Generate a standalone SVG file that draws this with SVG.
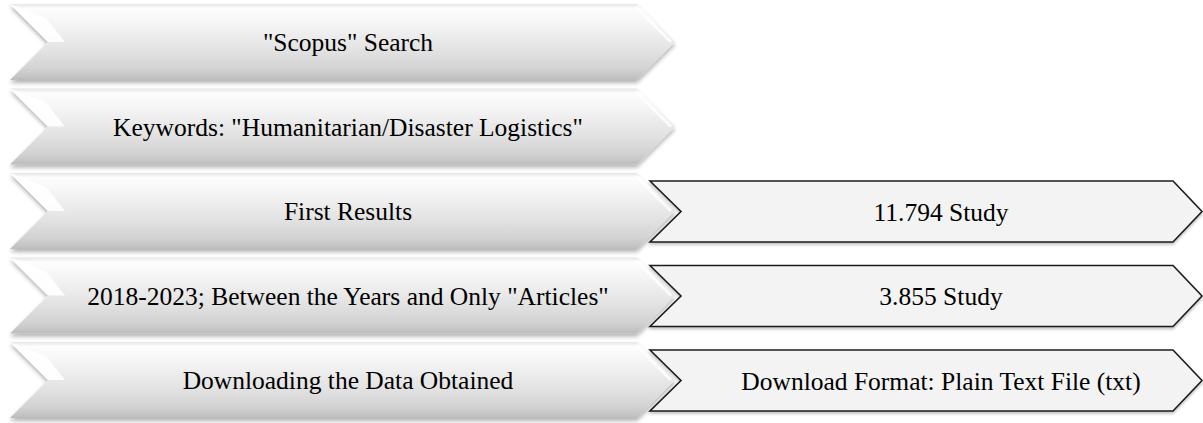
<svg xmlns="http://www.w3.org/2000/svg" width="1203" height="423" viewBox="0 0 1203 423">
<defs>
<linearGradient id="gL" x1="0" y1="0" x2="0" y2="1">
<stop offset="0" stop-color="#e6e6e6"/>
<stop offset="0.06" stop-color="#fdfdfd"/>
<stop offset="0.25" stop-color="#f5f5f5"/>
<stop offset="0.6" stop-color="#e3e3e3"/>
<stop offset="0.85" stop-color="#d3d3d3"/>
<stop offset="0.95" stop-color="#c5c5c5"/>
<stop offset="1" stop-color="#bcbcbc"/>
</linearGradient>
<filter id="sh" x="-5%" y="-20%" width="110%" height="150%">
<feGaussianBlur in="SourceAlpha" stdDeviation="2"/>
<feOffset dx="0" dy="3" result="b"/>
<feComponentTransfer><feFuncA type="linear" slope="0.3"/></feComponentTransfer>
<feMerge><feMergeNode/><feMergeNode in="SourceGraphic"/></feMerge>
</filter>
<filter id="sh2" x="-5%" y="-20%" width="110%" height="150%">
<feGaussianBlur in="SourceAlpha" stdDeviation="1.5"/>
<feOffset dx="0" dy="2" result="b"/>
<feComponentTransfer><feFuncA type="linear" slope="0.25"/></feComponentTransfer>
<feMerge><feMergeNode/><feMergeNode in="SourceGraphic"/></feMerge>
</filter>
</defs>
<style>
.lb{fill:url(#gL);filter:url(#sh)}
.hl{fill:#ffffff;opacity:0.9}
.tip{fill:none;stroke:#ffffff;stroke-width:3;opacity:0.8}
.rb{fill:#f3f3f3;stroke:#1e1e1e;stroke-width:1.6;stroke-linejoin:miter;filter:url(#sh2)}
text{font-family:"Liberation Serif","Times New Roman",serif;font-size:25.5px;fill:#000;text-anchor:middle}
</style>
<g id="connectors"></g>
<g id="n1">
<polygon class="lb" points="10,4 48,42 10,80 637,80 675,42 637,4"/>
<polygon class="hl" points="10,4 48,42 65,42 46,18"/>
<polyline class="tip" points="636,7 671,42"/>
<text x="348" y="51">"Scopus" Search</text>
</g>
<g id="n2">
<polygon class="lb" points="10,88.5 48,126.5 10,164.5 637,164.5 675,126.5 637,88.5"/>
<polygon class="hl" points="10,88.5 48,126.5 65,126.5 46,102.5"/>
<polyline class="tip" points="636,91.5 671,126.5"/>
<text x="348" y="135.5">Keywords: "Humanitarian/Disaster Logistics"</text>
</g>
<g id="n3">
<polygon class="lb" points="10,173 48,211 10,249 637,249 675,211 637,173"/>
<polygon class="hl" points="10,173 48,211 65,211 46,187"/>
<polyline class="tip" points="636,176 671,211"/>
<text x="348" y="220">First Results</text>
</g>
<g id="n4">
<polygon class="lb" points="10,257.5 48,295.5 10,333.5 637,333.5 675,295.5 637,257.5"/>
<polygon class="hl" points="10,257.5 48,295.5 65,295.5 46,271.5"/>
<polyline class="tip" points="636,260.5 671,295.5"/>
<text x="348" y="304.5">2018-2023; Between the Years and Only "Articles"</text>
</g>
<g id="n5">
<polygon class="lb" points="10,342 48,380 10,418 637,418 675,380 637,342"/>
<polygon class="hl" points="10,342 48,380 65,380 46,356"/>
<polyline class="tip" points="636,345 671,380"/>
<text x="348" y="389">Downloading the Data Obtained</text>
</g>
<g id="r3">
<polygon class="rb" points="650,181 681,211.5 650,242 1173,242 1202,211.5 1173,181"/>
<text x="941" y="220.5">11.794 Study</text>
</g>
<g id="r4">
<polygon class="rb" points="650,265.5 681,296 650,326.5 1173,326.5 1202,296 1173,265.5"/>
<text x="941" y="305">3.855 Study</text>
</g>
<g id="r5">
<polygon class="rb" points="650,350 681,380.5 650,411 1173,411 1202,380.5 1173,350"/>
<text x="941" y="389.5">Download Format: Plain Text File (txt)</text>
</g>
</svg>
